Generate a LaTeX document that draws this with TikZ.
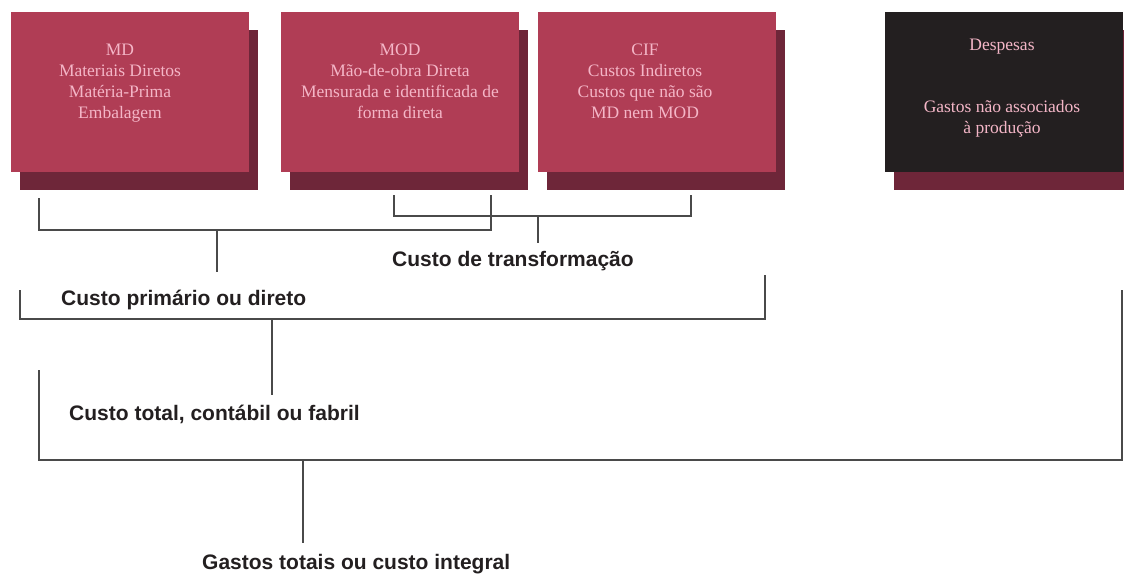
\documentclass[tikz,border=0pt]{standalone}
\usepackage{fontspec}
\setmainfont{Liberation Serif}
\newfontfamily\labelfont{Liberation Sans}
\usetikzlibrary{positioning}

\definecolor{costred}{HTML}{B03D55}
\definecolor{costshadow}{HTML}{6E2639}
\definecolor{costdark}{HTML}{231F20}
\definecolor{costpink}{HTML}{F4B6C7}
\definecolor{bracketgray}{HTML}{4A4A4A}

\begin{document}
\begin{tikzpicture}[x=1pt, y=-1pt,
  cost box/.style={fill=costred, minimum width=238pt, minimum height=160pt, inner sep=0pt},
  shadow box/.style={fill=costshadow, minimum width=238pt, minimum height=160pt, inner sep=0pt},
  box text/.style={text=costpink, align=center, anchor=north, inner sep=0pt, font=\fontsize{17.5}{21}\selectfont},
  cost label/.style={anchor=base west, inner sep=0pt, text=costdark, font=\labelfont\bfseries\fontsize{21}{25}\selectfont},
  bracket/.style={draw=bracketgray, line width=1.3pt}]
\useasboundingbox (0,0) rectangle (1124,576);

% shadows
\node[shadow box] (mdshadow)  at (139,110)  {};
\node[shadow box] (modshadow) at (409,110)  {};
\node[shadow box] (cifshadow) at (666,110)  {};
\node[shadow box] (despshadow) at (1013,110) {};

% boxes
\node[cost box] (md)  at (130,92) {};
\node[cost box] (mod) at (400,92) {};
\node[cost box] (cif) at (657,92) {};
\node[cost box, fill=costdark] (desp) at (1004,92) {};

\node[box text] (mdtxt)  at (120,44)  {MD\\Materiais Diretos\\Matéria-Prima\\Embalagem};
\node[box text] (modtxt) at (400,44)  {MOD\\Mão-de-obra Direta\\Mensurada e identificada de\\forma direta};
\node[box text] (ciftxt) at (645,44)  {CIF\\Custos Indiretos\\Custos que não são\\MD nem MOD};
\node[box text] (desptxt) at (1002,39) {Despesas\\[41pt]Gastos não associados\\à produção};

% labels
\node[cost label] (transf) at (392,266) {Custo de transformação};
\node[cost label] (prim)   at (61,305)  {Custo primário ou direto};
\node[cost label] (total)  at (69,420)  {Custo total, contábil ou fabril};
\node[cost label] (gastos) at (202,569) {Gastos totais ou custo integral};

% bracket ends
\coordinate (prim l)   at (39,198);
\coordinate (prim r)   at (491,195);
\coordinate (prim top) at (217,230);
\coordinate (prim bot) at (217,272);
\coordinate (transf l)   at (394,195);
\coordinate (transf r)   at (691,195);
\coordinate (transf top) at (538,216);
\coordinate (transf bot) at (538,243);
\coordinate (total l)   at (20,290);
\coordinate (total r)   at (765,275);
\coordinate (total top) at (272,319);
\coordinate (total bot) at (272,395);
\coordinate (gastos l)   at (39,370);
\coordinate (gastos r)   at (1122,290);
\coordinate (gastos top) at (303,460);
\coordinate (gastos bot) at (303,543);

\draw[bracket] (prim l) -- ++(0,32) -| (prim r);
\draw[bracket] (prim top) -- (prim bot);
\draw[bracket] (transf l) -- ++(0,21) -| (transf r);
\draw[bracket] (transf top) -- (transf bot);
\draw[bracket] (total l) -- ++(0,29) -| (total r);
\draw[bracket] (total top) -- (total bot);
\draw[bracket] (gastos l) -- ++(0,90) -| (gastos r);
\draw[bracket] (gastos top) -- (gastos bot);
\end{tikzpicture}
\end{document}
